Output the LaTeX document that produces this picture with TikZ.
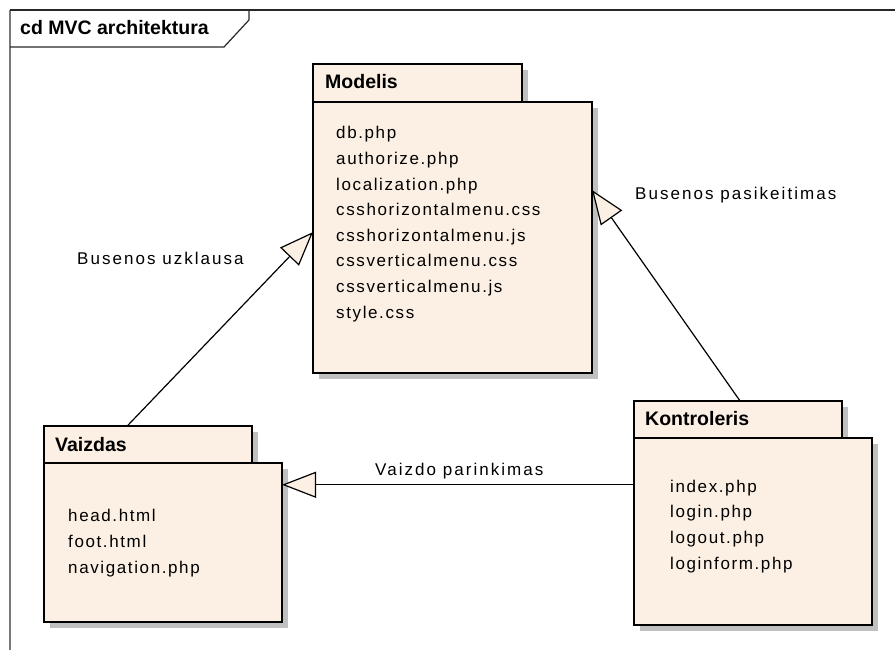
\documentclass[tikz,border=0pt]{standalone}
\usepackage{fontspec}
\setmainfont{Liberation Sans}
\newfontfamily\entryfont[LetterSpace=9.5]{Liberation Sans}
\newfontfamily\labelfont[LetterSpace=12]{Liberation Sans}
\usetikzlibrary{arrows.meta,calc,shadows}

\definecolor{pkgfill}{RGB}{251,240,227}
\definecolor{shadowgray}{RGB}{192,192,192}
\definecolor{framegray}{RGB}{120,120,120}
\definecolor{framedark}{RGB}{40,40,40}

\tikzset{
  x=1pt, y=-1pt,
  pkgpart/.style={draw=black, line width=2pt, fill=pkgfill, inner sep=0pt,
    outer sep=0pt, anchor=north west,
    drop shadow={shadow xshift=6pt, shadow yshift=-6pt, opacity=1, fill=shadowgray}},
  pkgtitle/.style={font=\bfseries\fontsize{19.5}{22}\selectfont,
    inner sep=0pt, anchor=base west},
  % multi-line entry lists are anchored at the baseline of their last line
  entries/.style={font=\entryfont\fontsize{17}{25.6}\selectfont, align=left,
    inner sep=0pt, anchor=base west},
  flowlabel/.style={font=\labelfont\fontsize{17}{20}\selectfont,
    inner sep=0pt, anchor=base west},
  realizes/.style={line width=1.2pt,
    -{Triangle[length=34pt,width=26pt,fill=pkgfill,line width=1.2pt]}},
}

\begin{document}
\begin{tikzpicture}
\useasboundingbox (0,0) rectangle (895,650);

% diagram frame with its name tab
\draw[framegray, line width=1.2pt] (10,650) -- (10,10);
\draw[framedark, line width=1.2pt] (10,10) -- (895,10);
\draw[framedark, line width=1.2pt] (10,47) -- (224,47) -- (249,20) -- (249,10);
\node[pkgtitle] (frametitle) at (20,35) {cd MVC architektura};

% package Modelis
\node[pkgpart, minimum width=209pt, minimum height=38pt] (mtab) at (313,64) {};
\node[pkgpart, minimum width=279pt, minimum height=271pt] (mbody) at (313,102) {};
\node[pkgtitle] (mtitle) at (325,89) {Modelis};
\node[entries] (mitems) at (336,318) {db.php\\authorize.php\\localization.php\\csshorizontalmenu.css\\csshorizontalmenu.js\\cssverticalmenu.css\\cssverticalmenu.js\\style.css};

% package Vaizdas
\node[pkgpart, minimum width=208pt, minimum height=37pt] (vtab) at (44,426) {};
\node[pkgpart, minimum width=238pt, minimum height=159pt] (vbody) at (44,463) {};
\node[pkgtitle] (vtitle) at (55,451) {Vaizdas};
\node[entries] (vitems) at (68,573) {head.html\\foot.html\\navigation.php};

% package Kontroleris
\node[pkgpart, minimum width=208pt, minimum height=37pt] (ktab) at (634,401) {};
\node[pkgpart, minimum width=238pt, minimum height=187pt] (kbody) at (634,438) {};
\node[pkgtitle] (ktitle) at (645,425) {Kontroleris};
\node[entries] (kitems) at (670,569) {index.php\\login.php\\logout.php\\loginform.php};

% dependencies between the packages
\coordinate (vstart) at ($(vtab.north west)!0.4!(vtab.north east)$);
\coordinate (mleft) at ($(mbody.north west)!0.48!(mbody.south west)$);
\coordinate (kstart) at ($(ktab.north west)!0.51!(ktab.north east)$);
\coordinate (mright) at ($(mbody.north east)!0.325!(mbody.south east)$);
\coordinate (kleft) at ($(kbody.north west)!0.25!(kbody.south west)$);

\draw[realizes] (vstart) -- (mleft);
\draw[realizes] (kstart) -- (mright);
\draw[realizes] (kleft) -- (kleft -| vbody.east);

\node[flowlabel] (lblquery) at (77,265) {Busenos uzklausa};
\node[flowlabel] (lblchange) at (635,200) {Busenos pasikeitimas};
\node[flowlabel] (lblview) at (375,475) {Vaizdo parinkimas};
\end{tikzpicture}
\end{document}
